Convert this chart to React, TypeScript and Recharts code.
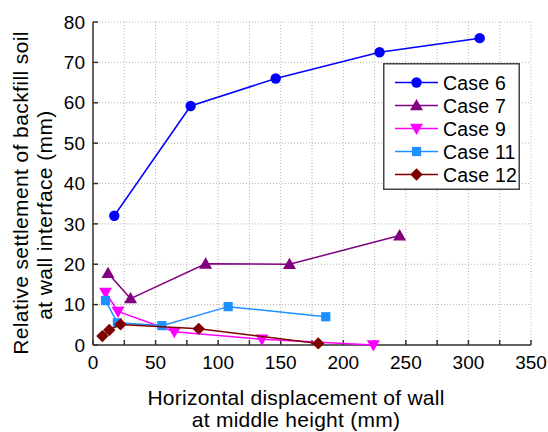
import React from 'react';
import { ScatterChart, Scatter, XAxis, YAxis, CartesianGrid } from 'recharts';

const FONT = '"Liberation Sans", Arial, Helvetica, sans-serif';

// Data
const case6X = [17, 78, 146, 229, 309];
const case6Y = [32, 59.2, 66, 72.5, 76];
const case7X = [12, 30, 90, 157, 245];
const case7Y = [17.8, 11.5, 20.1, 20, 27.1];
const case9X = [10, 20, 65, 135, 224];
const case9Y = [13, 8.3, 3.3, 1.4, 0];
const case11X = [10, 19.5, 55, 108, 186];
const case11Y = [11, 5.5, 4.8, 9.5, 7];
const case12X = [7.5, 13, 22, 84.5, 180];
const case12Y = [2.2, 3.7, 5.1, 4, 0.4];

const xTicks = [0, 25, 50, 75, 100, 125, 150, 175, 200, 225, 250, 275, 300, 325, 350];
const yTicks = [0, 10, 20, 30, 40, 50, 60, 70, 80];

const toPts = (xs: number[], ys: number[]) => xs.map((x, i) => ({ x, y: ys[i] }));

type ShapeKind = 'circle' | 'triUp' | 'triDown' | 'square' | 'diamond';

const series: { name: string; color: string; shape: ShapeKind; data: { x: number; y: number }[] }[] = [
  { name: 'Case 6', color: '#0000FF', shape: 'circle', data: toPts(case6X, case6Y) },
  { name: 'Case 7', color: '#800080', shape: 'triUp', data: toPts(case7X, case7Y) },
  { name: 'Case 9', color: '#FF00FF', shape: 'triDown', data: toPts(case9X, case9Y) },
  { name: 'Case 11', color: '#1E90FF', shape: 'square', data: toPts(case11X, case11Y) },
  { name: 'Case 12', color: '#800000', shape: 'diamond', data: toPts(case12X, case12Y) },
];

function Marker({ kind, cx, cy, color }: { kind: ShapeKind; cx: number; cy: number; color: string }) {
  if (cx == null || cy == null || isNaN(cx) || isNaN(cy)) return null;
  switch (kind) {
    case 'circle':
      return <circle cx={cx} cy={cy} r={5.2} fill={color} />;
    case 'triUp':
      return <polygon points={`${cx},${cy - 6.5} ${cx + 6.5},${cy + 4.8} ${cx - 6.5},${cy + 4.8}`} fill={color} />;
    case 'triDown':
      return <polygon points={`${cx - 6.5},${cy - 4.8} ${cx + 6.5},${cy - 4.8} ${cx},${cy + 6.5}`} fill={color} />;
    case 'square':
      return <rect x={cx - 4.6} y={cy - 4.6} width={9.2} height={9.2} fill={color} />;
    case 'diamond':
      return <polygon points={`${cx},${cy - 6.2} ${cx + 6.2},${cy} ${cx},${cy + 6.2} ${cx - 6.2},${cy}`} fill={color} />;
  }
  return null;
}

const XTitle = () => (
  <text fontFamily={FONT} fontSize={21} letterSpacing={0.25} fill="#000" textAnchor="middle">
    <tspan x={296} y={405}>Horizontal displacement of wall</tspan>
    <tspan x={296} y={427}>at middle height (mm)</tspan>
  </text>
);

const YTitle = () => (
  <g fontFamily={FONT} fontSize={21} letterSpacing={0.4} fill="#000">
    <text x={28} y={193} textAnchor="middle" transform="rotate(-90 28 193)">
      Relative settlement of backfill soil
    </text>
    <text x={52} y={215} textAnchor="middle" transform="rotate(-90 52 215)">
      at wall interface (mm)
    </text>
  </g>
);

const axisLine = { stroke: '#333', strokeWidth: 1.5 };

function LegendBox() {
  return (
    <svg
      width={137}
      height={127}
      style={{ position: 'absolute', left: 382.5, top: 62.5, overflow: 'visible' }}
    >
      <rect x={0.75} y={0.75} width={135.5} height={125.5} fill="#fff" stroke="#444" strokeWidth={1.5} />
      {series.map((s, i) => {
        const cy = 19.5 + i * 23;
        return (
          <g key={s.name}>
            <line x1={12} x2={55} y1={cy} y2={cy} stroke={s.color} strokeWidth={1.5} />
            <Marker kind={s.shape} cx={33.5} cy={cy} color={s.color} />
            <text x={60} y={cy + 7} fontFamily={FONT} fontSize={19.5} letterSpacing={0.2} fill="#000">
              {s.name}
            </text>
          </g>
        );
      })}
    </svg>
  );
}

export default function App() {
  return (
    <div style={{ position: 'absolute', left: 0, top: 0, width: 548, height: 432, background: '#fff' }}>
      <ScatterChart width={548} height={432} margin={{ top: 22, right: 17, bottom: 0, left: 0 }}>
        <CartesianGrid stroke="#b5b5b5" strokeDasharray="1 2" />
        <XAxis
          xAxisId={0}
          type="number"
          dataKey="x"
          domain={[0, 350]}
          ticks={xTicks}
          interval={0}
          height={87}
          tickSize={-5}
          tickMargin={16}
          tickFormatter={(v: number) => (v % 50 === 0 ? String(v) : '')}
          axisLine={axisLine}
          tickLine={axisLine}
          tick={{ fill: '#000', fontSize: 19, fontFamily: FONT }}
          label={<XTitle />}
        />
        <XAxis
          xAxisId="top"
          orientation="top"
          type="number"
          domain={[0, 350]}
          ticks={xTicks}
          interval={0}
          height={0}
          tickSize={-5}
          tickFormatter={() => ''}
          axisLine={axisLine}
          tickLine={axisLine}
        />
        <YAxis
          yAxisId={0}
          type="number"
          dataKey="y"
          domain={[0, 80]}
          ticks={yTicks}
          interval={0}
          width={93}
          tickSize={-5}
          tickMargin={13}
          axisLine={axisLine}
          tickLine={axisLine}
          tick={{ fill: '#000', fontSize: 19, fontFamily: FONT }}
          label={<YTitle />}
        />
        <YAxis
          yAxisId="right"
          orientation="right"
          type="number"
          domain={[0, 80]}
          ticks={yTicks}
          interval={0}
          width={0}
          tickSize={-5}
          tickFormatter={() => ''}
          axisLine={axisLine}
          tickLine={axisLine}
        />
        {series.map((s) => (
          <Scatter
            key={s.name}
            name={s.name}
            data={s.data}
            xAxisId={0}
            yAxisId={0}
            fill={s.color}
            line={{ stroke: s.color, strokeWidth: 1.5 }}
            lineType="joint"
            shape={(p: any) => <Marker kind={s.shape} cx={p.cx} cy={p.cy} color={s.color} />}
            isAnimationActive={false}
          />
        ))}
      </ScatterChart>
      <LegendBox />
    </div>
  );
}
